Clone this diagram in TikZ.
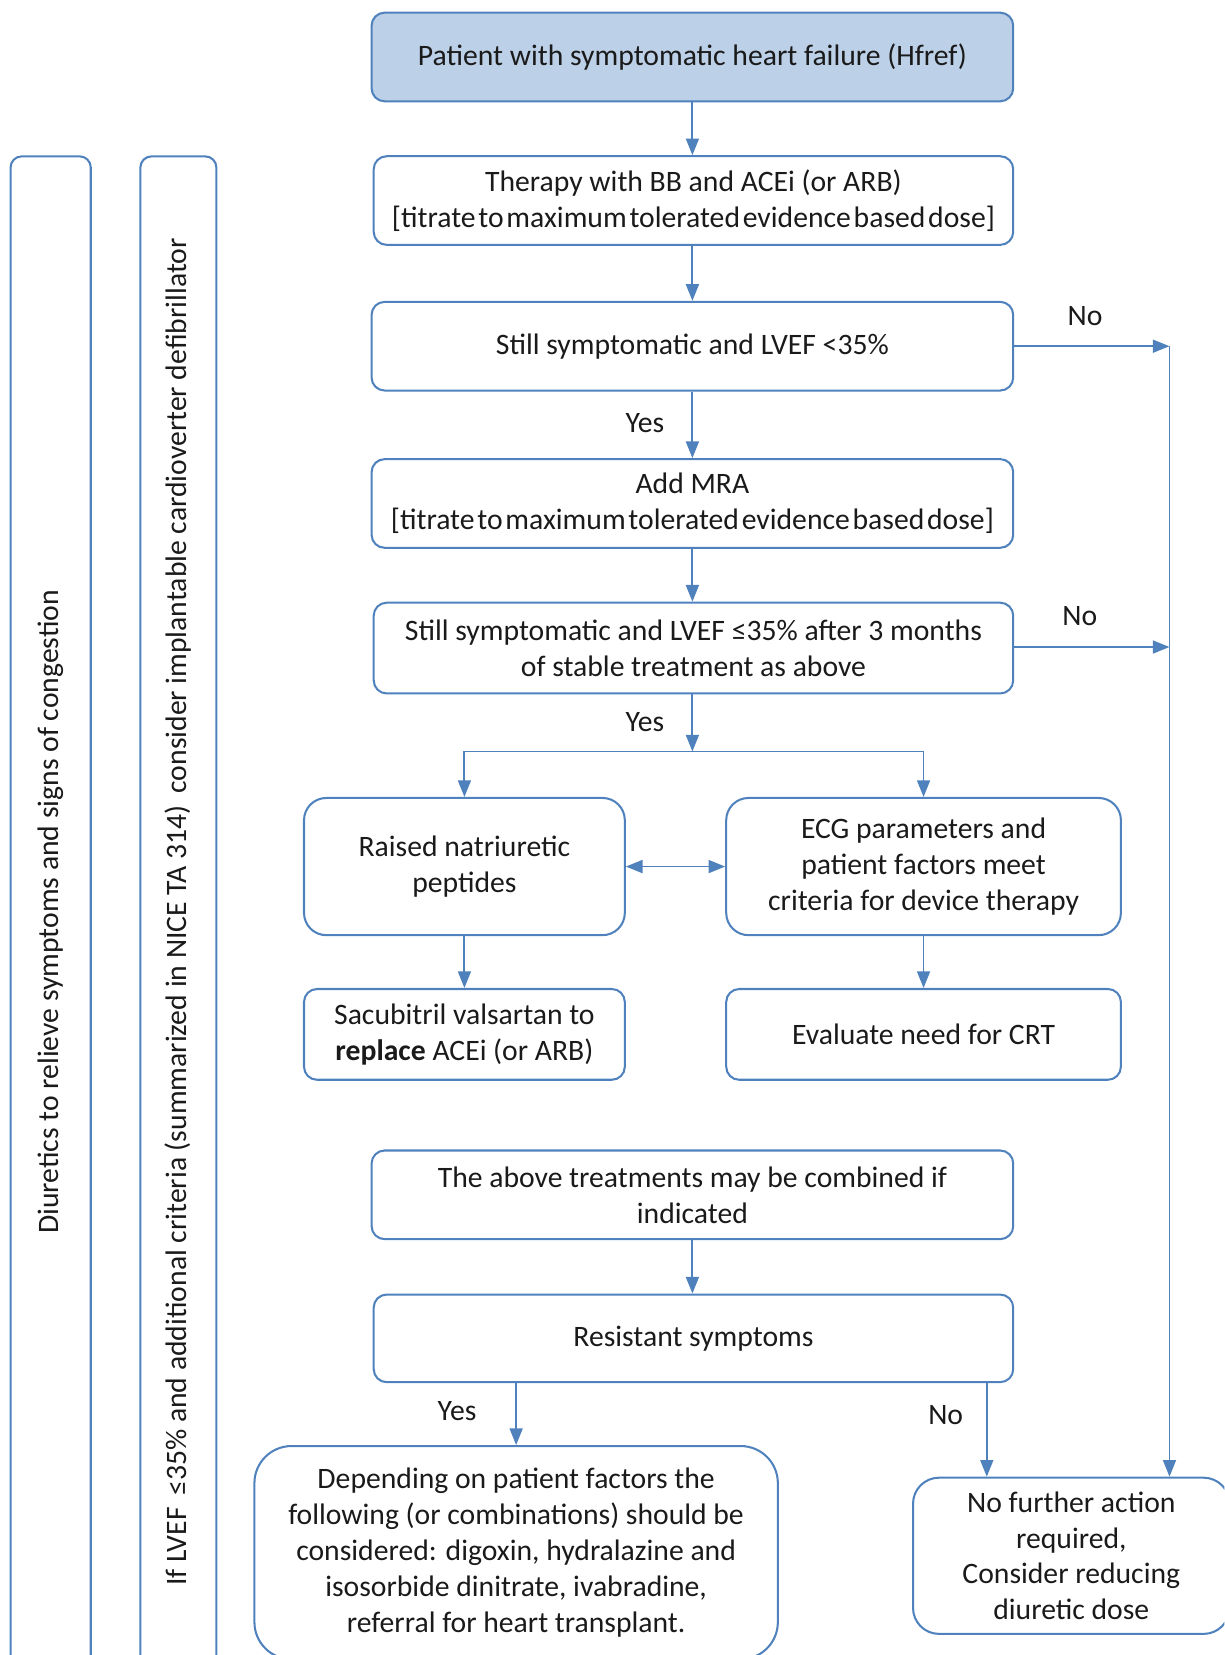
\documentclass[tikz,border=0pt]{standalone}
\usepackage{fontspec}
\setmainfont{Carlito}
\usepackage{tikz}
\usetikzlibrary{arrows.meta}

\definecolor{hfblue}{HTML}{4F81BD}
\definecolor{hffill}{HTML}{BCD0E8}
\definecolor{hfink}{HTML}{1A1A1A}

\newcommand{\tight}[1]{{\spaceskip=1.5pt plus 0.5pt\relax #1}}

\tikzset{
    box/.style={draw=hfblue, line width=1.1pt, rounded corners=7pt, align=center,
        text=hfink, inner sep=0pt, font=\fontsize{16}{19.4}\selectfont},
    bar/.style={box, rotate=90, rounded corners=6pt, minimum width=28.64cm},
    arr/.style={draw=hfblue, line width=1pt, -{Triangle[length=9pt,width=7pt]}},
    lbl/.style={text=hfink, inner sep=0pt, font=\fontsize{16}{19.4}\selectfont},
}

\begin{document}
\begin{tikzpicture}[x=0.02cm, y=-0.02cm]
    \useasboundingbox (0,0) rectangle (1160,1568);
    \clip (0,0) rectangle (1160,1568);

    \node[bar, minimum height=1.52cm] (diuretics) at (48,864)
        {Diuretics to relieve symptoms and signs of congestion};
    \node[bar, minimum height=1.44cm] (icd) at (169,864)
        {If LVEF \,≤35\% and additional criteria (summarized in NICE TA 314) \,consider implantable cardioverter defibrillator};

    \node[box, fill=hffill, minimum width=12.16cm, minimum height=1.68cm] (patient) at (656,54)
        {Patient with symptomatic heart failure (Hfref)};
    \node[box, minimum width=12.12cm, minimum height=1.68cm] (therapy) at (657,190)
        {Therapy with BB and ACEi (or ARB)\\\tight{{[}titrate to maximum tolerated evidence based dose{]}}};
    \node[box, minimum width=12.16cm, minimum height=1.68cm] (still) at (656,328)
        {Still symptomatic and LVEF <35\%};
    \node[box, minimum width=12.16cm, minimum height=1.68cm] (mra) at (656,477)
        {Add MRA\\\tight{{[}titrate to maximum tolerated evidence based dose{]}}};
    \node[box, minimum width=12.12cm, minimum height=1.72cm] (stillthree) at (657,614)
        {Still symptomatic and LVEF ≤35\% after 3 months\\of stable treatment as above};

    \node[box, rounded corners=12pt, minimum width=6.08cm, minimum height=2.6cm] (raised) at (440,821)
        {Raised natriuretic\\peptides};
    \node[box, rounded corners=12pt, minimum width=7.48cm, minimum height=2.6cm] (ecg) at (875,821)
        {ECG parameters and\\patient factors meet\\criteria for device therapy};
    \node[box, minimum width=6.08cm, minimum height=1.72cm] (sacubitril) at (440,980)
        {Sacubitril valsartan to\\\textbf{replace} ACEi (or ARB)};
    \node[box, minimum width=7.48cm, minimum height=1.72cm] (crt) at (875,980)
        {Evaluate need for CRT};

    \node[box, minimum width=12.16cm, minimum height=1.68cm] (combined) at (656,1132)
        {The above treatments may be combined if\\indicated};
    \node[box, minimum width=12.12cm, minimum height=1.66cm] (resistant) at (657,1268)
        {Resistant symptoms};
    \node[box, rounded corners=20pt, minimum width=9.92cm, minimum height=4.04cm] (depending) at (489,1471)
        {Depending on patient factors the\\following (or combinations) should be\\considered: digoxin, hydralazine and\\isosorbide dinitrate, ivabradine,\\referral for heart transplant.};
    \node[box, rounded corners=14pt, minimum width=6cm, minimum height=2.96cm] (nofurther) at (1015,1474)
        {No further action\\required,\\Consider reducing\\diuretic dose};

    \coordinate (split) at (656,712);
    \coordinate (noone) at (1108,328);
    \coordinate (notwo) at (1108,613);

    \draw[arr] (patient.south) -- (patient.south |- therapy.north);
    \draw[arr] (therapy.south -| patient.south) -- (still.north);
    \draw[arr] (still.south) -- (mra.north);
    \draw[arr] (mra.south) -- (mra.south |- stillthree.north);
    \draw[arr] (stillthree.south -| mra.south) -- (split);
    \draw[arr] (split) -| (raised.north);
    \draw[arr] (split) -| (ecg.north);
    \draw[arr, {Triangle[length=9pt,width=7pt]}-{Triangle[length=9pt,width=7pt]}] (raised) -- (ecg);
    \draw[arr] (raised.south) -- (sacubitril.north);
    \draw[arr] (ecg.south) -- (crt.north);
    \draw[arr] (combined.south) -- (combined.south |- resistant.north);
    \draw[arr] (depending.north |- resistant.south) -- (depending.north);
    \draw[arr] ([xshift=-0.52cm]resistant.south east) -- ([xshift=-0.52cm]resistant.south east |- nofurther.north);

    \draw[arr] (still.east) -- (noone);
    \draw[arr] (stillthree.east |- notwo) -- (notwo);
    \draw[arr] (noone) -- (noone |- nofurther.north);

    \node[lbl] (nolabelone) at (1028,299) {No};
    \node[lbl] (nolabeltwo) at (1023,584) {No};
    \node[lbl] (yeslabelone) at (611,401) {Yes};
    \node[lbl] (yeslabeltwo) at (611,684) {Yes};
    \node[lbl] (yeslabelthree) at (433,1337) {Yes};
    \node[lbl] (nolabelthree) at (896,1341) {No};
\end{tikzpicture}
\end{document}
